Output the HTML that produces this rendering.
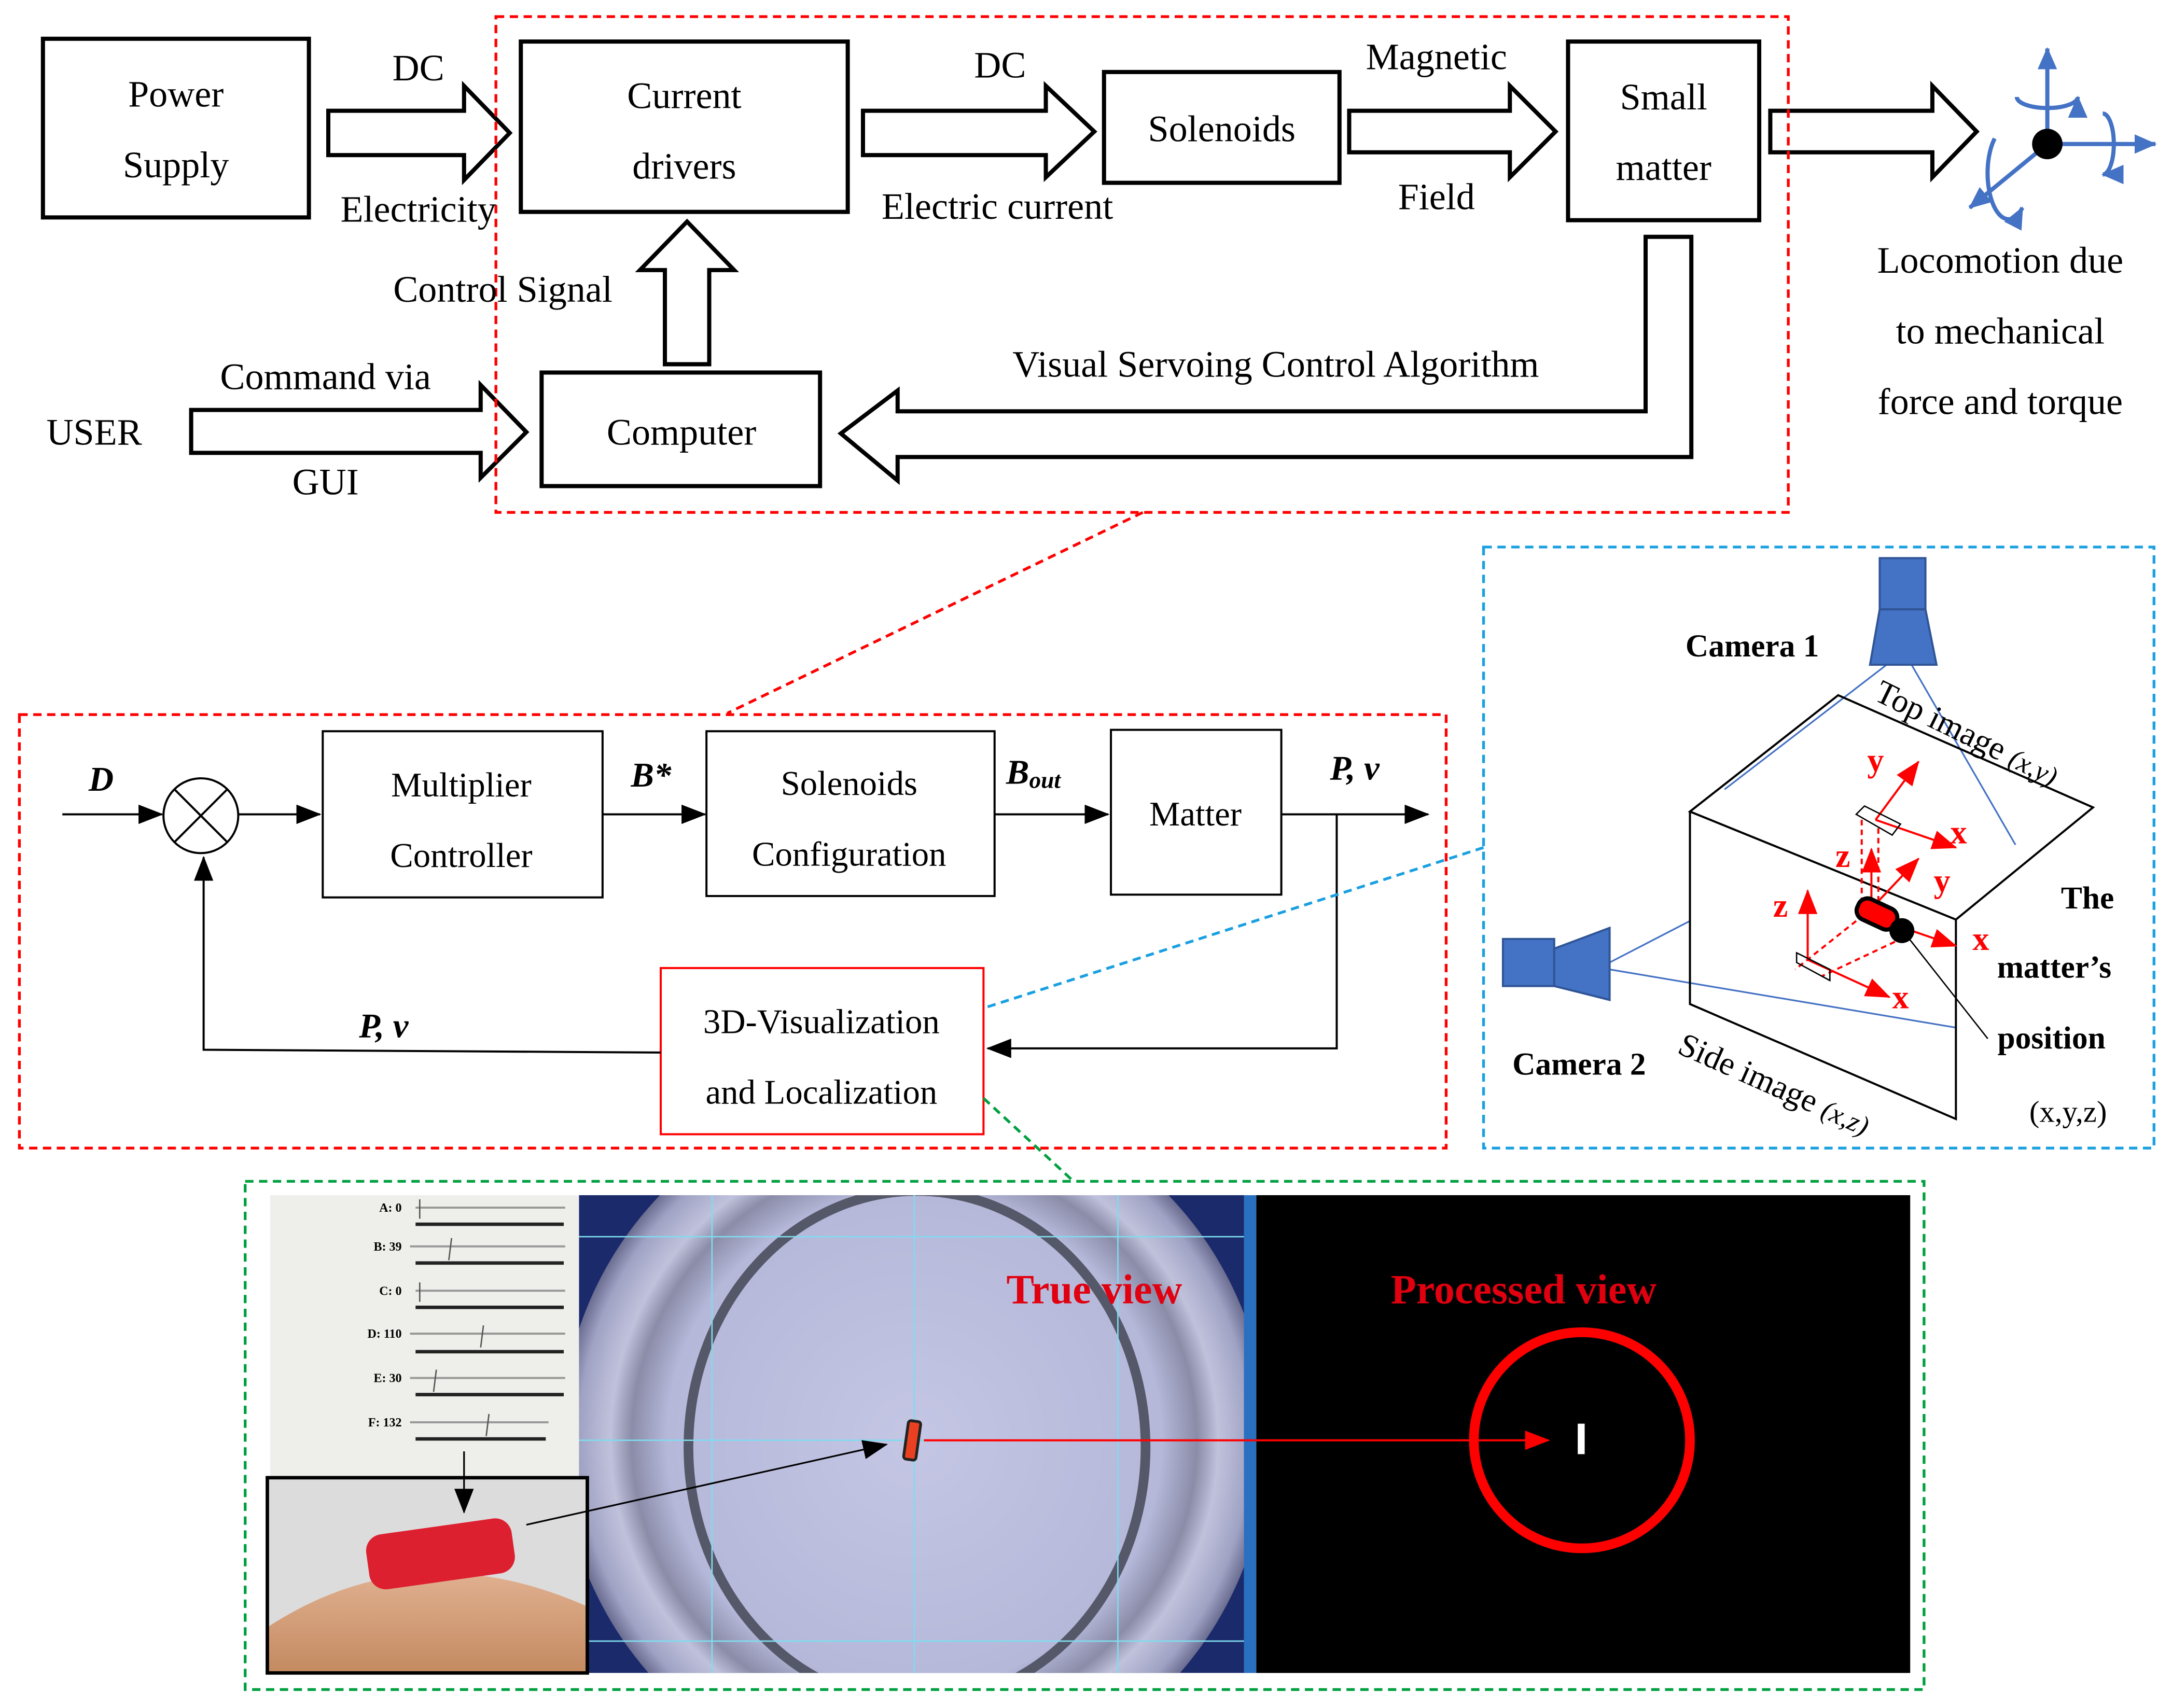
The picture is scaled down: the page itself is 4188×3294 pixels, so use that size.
<!DOCTYPE html>
<html><head><meta charset="utf-8"><style>
html,body{margin:0;padding:0;background:#fff;overflow:hidden;width:4188px;height:3294px;}
svg{display:block;position:absolute;left:0;top:0;}
text{font-family:"Liberation Serif",serif;fill:#000;}
</style></head><body>
<svg width="4188" height="3294" viewBox="0 0 1568 1233.3" preserveAspectRatio="none" xmlns="http://www.w3.org/2000/svg">
<defs>
<marker id="ahL" markerWidth="18" markerHeight="14" refX="17" refY="7" orient="auto" markerUnits="userSpaceOnUse"><path d="M0,0 L18,7 L0,14 z" fill="#000"/></marker>
<marker id="ahR" markerWidth="18" markerHeight="14" refX="17" refY="7" orient="auto" markerUnits="userSpaceOnUse"><path d="M0,0 L18,7 L0,14 z" fill="#f00"/></marker>
<marker id="ahB" markerWidth="16" markerHeight="14" refX="15" refY="7" orient="auto" markerUnits="userSpaceOnUse"><path d="M0,0 L16,7 L0,14 z" fill="#4472c4"/></marker>
<radialGradient id="dish" cx="0.5" cy="0.5" r="0.5">
<stop offset="0" stop-color="#c4c6e4"/><stop offset="0.7" stop-color="#b6b8da"/><stop offset="0.8" stop-color="#8a8ca8"/><stop offset="0.86" stop-color="#c0c2dc"/><stop offset="0.95" stop-color="#a0a2c4"/><stop offset="1" stop-color="#6a6c90"/></radialGradient>
<linearGradient id="skin" x1="0" y1="0" x2="0" y2="1"><stop offset="0" stop-color="#e0b090"/><stop offset="1" stop-color="#c48a60"/></linearGradient>
<clipPath id="tv"><rect x="418" y="863" width="489" height="345"/></clipPath>
</defs>

<g fill="#fff" stroke="#000" stroke-width="3">
<rect x="31" y="28" width="192" height="129"/>
<rect x="376" y="30" width="236" height="123"/>
<rect x="797" y="52" width="170" height="80"/>
<rect x="1132" y="30" width="138" height="129"/>
<rect x="391" y="269" width="201" height="82"/>
<polygon points="237,80 335,80 335,62 368,96 335,130 335,112 237,112"/>
<polygon points="623,80 755,80 755,62 790,95 755,128 755,112 623,112"/>
<polygon points="974,80 1090,80 1090,62 1123,95 1090,128 1090,110 974,110"/>
<polygon points="1278,80 1395,80 1395,62 1427,95 1395,128 1395,110 1278,110"/>
<polygon points="480,263 480,195 462,195 496,160 530,195 512,195 512,263"/>
<polygon points="138,296 347,296 347,278 380,312 347,345 347,327 138,327"/>
<polygon points="1188,171 1221,171 1221,330 648,330 648,347 607,313 648,282 648,297 1188,297"/>
</g>
<rect x="358" y="12" width="933" height="358" fill="none" stroke="#f00" stroke-width="2" stroke-dasharray="6,4"/>

<g font-size="27" text-anchor="middle">
<text x="127" y="77">Power</text><text x="127" y="128">Supply</text>
<text x="302" y="58">DC</text><text x="302" y="160">Electricity</text>
<text x="494" y="78">Current</text><text x="494" y="129">drivers</text>
<text x="722" y="56">DC</text><text x="720" y="158">Electric current</text>
<text x="882" y="102">Solenoids</text>
<text x="1037" y="50">Magnetic</text><text x="1037" y="151">Field</text>
<text x="1201" y="79">Small</text><text x="1201" y="130">matter</text>
<text x="1444" y="197">Locomotion due</text><text x="1444" y="248">to mechanical</text><text x="1444" y="299">force and torque</text>
<text x="363" y="218">Control Signal</text>
<text x="921" y="272">Visual Servoing Control Algorithm</text>
<text x="68" y="321">USER</text>
<text x="235" y="281">Command via</text><text x="235" y="357">GUI</text>
<text x="492" y="321">Computer</text>
</g>

<g stroke="#4472c4" stroke-width="3" fill="none">
<line x1="1478" y1="104" x2="1478" y2="35" marker-end="url(#ahB)"/>
<line x1="1478" y1="104" x2="1556" y2="104" marker-end="url(#ahB)"/>
<line x1="1478" y1="104" x2="1422" y2="150" marker-end="url(#ahB)"/>
<path d="M1456,70 A22,8 0 1 0 1500,70" marker-end="url(#ahB)"/>
<path d="M1518,82 A8,22 0 1 1 1518,126" marker-end="url(#ahB)"/>
<path d="M1440,100 A10,22 0 0 0 1460,150" marker-end="url(#ahB)"/>
</g>
<circle cx="1478" cy="104" r="11" fill="#000"/>

<line x1="825" y1="370" x2="525" y2="515" stroke="#f00" stroke-width="2" stroke-dasharray="6,4"/>

<rect x="14" y="516" width="1030" height="313" fill="none" stroke="#f00" stroke-width="2" stroke-dasharray="6,4"/>
<g fill="#fff" stroke="#000" stroke-width="1.5">
<rect x="233" y="528" width="202" height="120"/>
<rect x="510" y="528" width="208" height="119"/>
<rect x="802" y="527" width="123" height="119"/>
<circle cx="145" cy="589" r="27"/>
</g>
<rect x="477" y="699" width="233" height="120" fill="#fff" stroke="#f00" stroke-width="1.5"/>
<g stroke="#000" stroke-width="1.5">
<line x1="126" y1="570" x2="164" y2="608"/><line x1="164" y1="570" x2="126" y2="608"/>
</g>
<g stroke="#000" stroke-width="1.5" fill="none">
<line x1="45" y1="588" x2="117" y2="588" marker-end="url(#ahL)"/>
<line x1="172" y1="588" x2="231" y2="588" marker-end="url(#ahL)"/>
<line x1="435" y1="588" x2="509" y2="588" marker-end="url(#ahL)"/>
<line x1="718" y1="588" x2="800" y2="588" marker-end="url(#ahL)"/>
<line x1="925" y1="588" x2="1031" y2="588" marker-end="url(#ahL)"/>
<polyline points="965,588 965,757 713,757" marker-end="url(#ahL)"/>
<polyline points="477,760 147,758 147,619" marker-end="url(#ahL)"/>
</g>
<g font-size="25" text-anchor="middle">
<text x="73" y="571" font-style="italic" font-weight="bold">D</text>
<text x="333" y="575">Multiplier</text><text x="333" y="626">Controller</text>
<text x="470" y="568" font-style="italic" font-weight="bold">B*</text>
<text x="613" y="574">Solenoids</text><text x="613" y="625">Configuration</text>
<text x="746" y="566" font-style="italic" font-weight="bold">B<tspan font-size="17" dy="3">out</tspan></text>
<text x="863" y="596">Matter</text>
<text x="978" y="563" font-style="italic" font-weight="bold">P, v</text>
<text x="277" y="749" font-style="italic" font-weight="bold">P, v</text>
<text x="593" y="746">3D-Visualization</text><text x="593" y="797">and Localization</text>
</g>
<line x1="713" y1="727" x2="1071" y2="612" stroke="#1aa0e0" stroke-width="2" stroke-dasharray="6,4"/>
<line x1="710" y1="793" x2="775" y2="853" stroke="#00a040" stroke-width="2" stroke-dasharray="6,4"/>

<rect x="1071" y="395" width="484" height="434" fill="none" stroke="#1aa0e0" stroke-width="2" stroke-dasharray="6,4"/>
<g stroke="#4472c4" stroke-width="1.2">
<line x1="1362" y1="480" x2="1245" y2="570"/>
<line x1="1380" y1="480" x2="1455" y2="610"/>
<line x1="1162" y1="695" x2="1220" y2="665"/>
<line x1="1162" y1="700" x2="1412" y2="742"/>
</g>
<g fill="#4472c4" stroke="#2f5597" stroke-width="1.5">
<rect x="1357" y="403" width="33" height="37"/>
<polygon points="1357,440 1390,440 1398,480 1350,480"/>
<rect x="1085" y="678" width="37" height="34"/>
<polygon points="1122,685 1162,670 1162,722 1122,712"/>
</g>
<g stroke="#000" stroke-width="1.5" fill="none">
<polygon points="1220,586 1327,502 1511,583 1412,664"/>
<polyline points="1220,586 1220,725 1412,808 1412,664"/>
</g>
<g stroke="#f00" stroke-width="1.5" fill="none">
<line x1="1351" y1="651" x2="1351" y2="613" marker-end="url(#ahR)"/>
<line x1="1352" y1="655" x2="1385" y2="620" marker-end="url(#ahR)"/>
<line x1="1380" y1="672" x2="1412" y2="683" marker-end="url(#ahR)"/>
<line x1="1354" y1="592" x2="1385" y2="550" marker-end="url(#ahR)"/>
<line x1="1354" y1="592" x2="1412" y2="612" marker-end="url(#ahR)"/>
<line x1="1305" y1="693" x2="1305" y2="643" marker-end="url(#ahR)"/>
<line x1="1305" y1="693" x2="1364" y2="720" marker-end="url(#ahR)"/>
<g stroke-dasharray="4,3"><line x1="1344" y1="592" x2="1344" y2="660"/><line x1="1356" y1="598" x2="1356" y2="665"/><line x1="1340" y1="665" x2="1296" y2="700"/><line x1="1368" y1="680" x2="1315" y2="705"/></g>
</g>
<g stroke="#000" stroke-width="1" fill="none">
<polygon points="1340,588 1346,582 1372,595 1366,603"/>
<polygon points="1297,688 1297,695 1321,708 1321,700"/>
<line x1="1376" y1="675" x2="1435" y2="750"/>
</g>
<rect x="1340" y="652" width="30" height="16" rx="7" transform="rotate(25 1355 660)" fill="#f00" stroke="#000" stroke-width="3"/>
<circle cx="1373" cy="672" r="9" fill="#000"/>
<g font-size="24" font-weight="bold">
<text x="1348" y="557" style="fill:#f00">y</text><text x="1408" y="609" style="fill:#f00">x</text>
<text x="1325" y="626" style="fill:#f00">z</text><text x="1396" y="644" style="fill:#f00">y</text>
<text x="1280" y="662" style="fill:#f00">z</text><text x="1424" y="686" style="fill:#f00">x</text>
<text x="1366" y="728" style="fill:#f00">x</text>
</g>
<g font-size="23" font-weight="bold">
<text x="1265" y="474" text-anchor="middle">Camera 1</text>
<text x="1140" y="776" text-anchor="middle">Camera 2</text>
<text x="1507" y="656" text-anchor="middle">The</text>
<text x="1483" y="706" text-anchor="middle">matter’s</text>
<text x="1481" y="757" text-anchor="middle">position</text>
</g>
<text x="1493" y="810" font-size="22" text-anchor="middle">(x,y,z)</text>
<text x="1352" y="505" font-size="24" transform="rotate(26 1352 505)">Top image <tspan font-size="20" font-style="italic">(x,y)</tspan></text>
<text x="1210" y="760" font-size="24" transform="rotate(24 1210 760)">Side image <tspan font-size="20" font-style="italic">(x,z)</tspan></text>

<rect x="177" y="853" width="1212" height="367" fill="none" stroke="#00a040" stroke-width="2" stroke-dasharray="6,4"/>
<rect x="195" y="863" width="223" height="204" fill="#eeeeea"/>
<g font-family="Liberation Sans" font-size="9" font-weight="bold" text-anchor="end">
<text x="290" y="875">A: 0</text><text x="290" y="903">B: 39</text><text x="290" y="935">C: 0</text>
<text x="290" y="966">D: 110</text><text x="290" y="998">E: 30</text><text x="290" y="1030">F: 132</text>
</g>
<g stroke="#999" stroke-width="1.5">
<line x1="300" y1="872" x2="408" y2="872"/><line x1="296" y1="900" x2="408" y2="900"/><line x1="300" y1="932" x2="408" y2="932"/>
<line x1="296" y1="963" x2="408" y2="963"/><line x1="296" y1="995" x2="408" y2="995"/><line x1="296" y1="1027" x2="396" y2="1027"/>
</g>
<g stroke="#222" stroke-width="2.5">
<line x1="300" y1="884" x2="407" y2="884"/><line x1="300" y1="912" x2="407" y2="912"/><line x1="300" y1="944" x2="407" y2="944"/>
<line x1="300" y1="976" x2="407" y2="976"/><line x1="300" y1="1007" x2="407" y2="1007"/><line x1="300" y1="1039" x2="394" y2="1039"/>
</g>
<g stroke="#555" stroke-width="1">
<line x1="303" y1="866" x2="303" y2="880"/><line x1="326" y1="894" x2="324" y2="910"/><line x1="303" y1="926" x2="303" y2="940"/>
<line x1="349" y1="957" x2="347" y2="973"/><line x1="315" y1="989" x2="313" y2="1005"/><line x1="353" y1="1021" x2="351" y2="1037"/>
</g>
<g clip-path="url(#tv)">
<rect x="418" y="863" width="489" height="345" fill="#1a2a6a"/>
<circle cx="660" cy="1040" r="255" fill="url(#dish)"/>
<ellipse cx="662" cy="1045" rx="165" ry="185" fill="none" stroke="#555868" stroke-width="7"/>
<g stroke="#7fdcef" stroke-width="1">
<line x1="418" y1="893" x2="907" y2="893"/><line x1="418" y1="1040" x2="907" y2="1040"/><line x1="418" y1="1185" x2="907" y2="1185"/>
<line x1="514" y1="863" x2="514" y2="1208"/><line x1="660" y1="863" x2="660" y2="1208"/><line x1="807" y1="863" x2="807" y2="1208"/>
</g>
<rect x="898" y="863" width="9" height="345" fill="#2a70c0"/>
</g>
<rect x="654" y="1026" width="9" height="28" rx="2" fill="#e84020" stroke="#222" stroke-width="2" transform="rotate(8 658 1040)"/>
<text x="790" y="941" font-size="30" font-weight="bold" text-anchor="middle" style="fill:#e00010">True view</text>
<rect x="907" y="863" width="472" height="345" fill="#000"/>
<circle cx="1142" cy="1040" r="78" fill="none" stroke="#f00" stroke-width="7"/>
<rect x="1139" y="1028" width="5" height="22" fill="#fff"/>
<text x="1100" y="941" font-size="30" font-weight="bold" text-anchor="middle" style="fill:#e00010">Processed view</text>
<line x1="667" y1="1040" x2="1118" y2="1040" stroke="#f00" stroke-width="1.5" marker-end="url(#ahR)"/>
<rect x="193" y="1067" width="231" height="141" fill="#dcdcdc"/>
<path d="M193,1208 L193,1175 Q300,1105 424,1160 L424,1208 Z" fill="url(#skin)"/>
<rect x="265" y="1102" width="106" height="40" rx="12" fill="#dd2030" transform="rotate(-8 318 1122)"/>
<rect x="193" y="1067" width="231" height="141" fill="none" stroke="#000" stroke-width="2.5"/>
<line x1="335" y1="1048" x2="335" y2="1092" stroke="#000" stroke-width="1.2" marker-end="url(#ahL)"/>
<line x1="380" y1="1101" x2="640" y2="1043" stroke="#000" stroke-width="1.2" marker-end="url(#ahL)"/>
</svg>
</body></html>
